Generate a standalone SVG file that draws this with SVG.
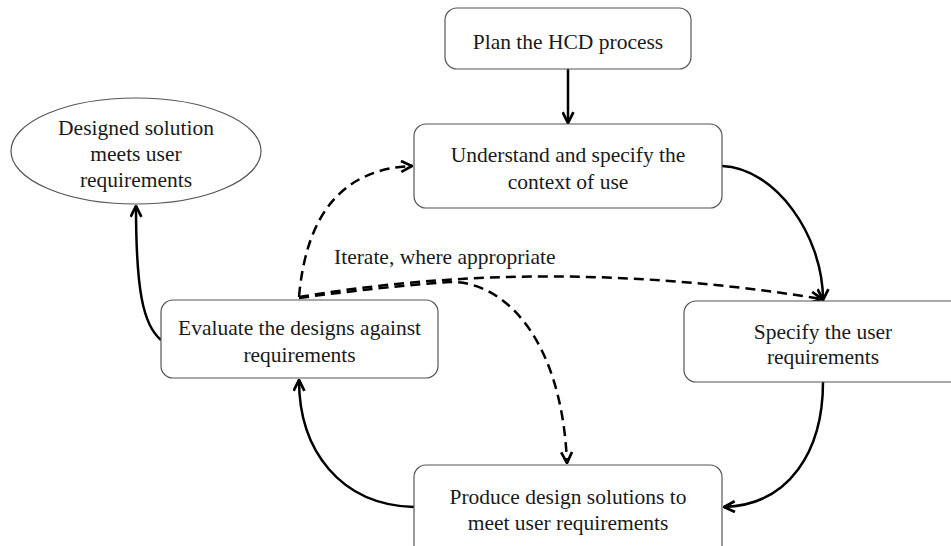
<svg xmlns="http://www.w3.org/2000/svg" width="951" height="546" viewBox="0 0 951 546">
  <style>
    .box { fill: #ffffff; stroke: #555555; stroke-width: 1.2; }
    .lbl { font-size: 21.5px; fill: #1a1a1a; text-anchor: middle; }
    .note { font-size: 21.5px; fill: #1a1a1a; }
    .flow { fill: none; stroke: #000000; stroke-width: 2.5; marker-end: url(#open); }
    .iter { fill: none; stroke: #000000; stroke-width: 2.5; stroke-dasharray: 10 6; marker-end: url(#open); }
  </style>
  <defs>
    <marker id="open" markerUnits="userSpaceOnUse" viewBox="0 0 12 12" markerWidth="13" markerHeight="13" refX="11" refY="6" orient="auto">
      <path d="M1,1 L11,6 L1,11" fill="none" stroke="#000000" stroke-width="2.5" stroke-dasharray="none" stroke-linejoin="miter"/>
    </marker>
  </defs>
  <rect width="951" height="546" fill="#ffffff"/>

  <!-- connectors -->
  <g id="connectors">
    <path class="flow" d="M568,69 L568,123"/>
    <path class="flow" d="M722,166 C775,168 823,235 823,300"/>
    <path class="flow" d="M823,382 C823,450 790,505 724,507"/>
    <path class="flow" d="M414,507 C340,505 299,450 299,380"/>
    <path class="flow" d="M161,340 C143,325 136,290 136,206"/>
    <path class="iter" d="M299,297 Q310,170 412,166"/>
    <path class="iter" d="M299,297 Q550,255 822,299"/>
    <path class="iter" d="M299,298 Q380,287 450,282 C505,281 562,340 567,463"/>
  </g>

  <g font-family="'Liberation Serif', 'DejaVu Serif', 'Times New Roman', serif">
    <g id="plan">
      <rect class="box" x="445" y="8" width="246" height="61" rx="12"/>
      <text class="lbl" x="568" y="49">Plan the HCD process</text>
    </g>

    <g id="context">
      <rect class="box" x="414" y="124" width="308" height="84" rx="12"/>
      <text class="lbl" x="568" y="162">Understand and specify the</text>
      <text class="lbl" x="568" y="189">context of use</text>
    </g>

    <g id="outcome">
      <ellipse class="box" cx="136" cy="151" rx="125" ry="53"/>
      <text class="lbl" x="136" y="135">Designed solution</text>
      <text class="lbl" x="136" y="161">meets user</text>
      <text class="lbl" x="136" y="187">requirements</text>
    </g>

    <g id="evaluate">
      <rect class="box" x="161" y="300" width="277" height="78" rx="12"/>
      <text class="lbl" x="299.5" y="335">Evaluate the designs against</text>
      <text class="lbl" x="299.5" y="362">requirements</text>
    </g>

    <g id="requirements">
      <rect class="box" x="684" y="301" width="280" height="81" rx="12"/>
      <text class="lbl" x="823" y="339">Specify the user</text>
      <text class="lbl" x="823" y="364">requirements</text>
    </g>

    <g id="produce">
      <rect class="box" x="414" y="465" width="308" height="100" rx="12"/>
      <text class="lbl" x="568" y="504">Produce design solutions to</text>
      <text class="lbl" x="568" y="530">meet user requirements</text>
    </g>

    <g id="iterate-note">
      <text class="note" x="334" y="264">Iterate, where appropriate</text>
    </g>
  </g>
</svg>
